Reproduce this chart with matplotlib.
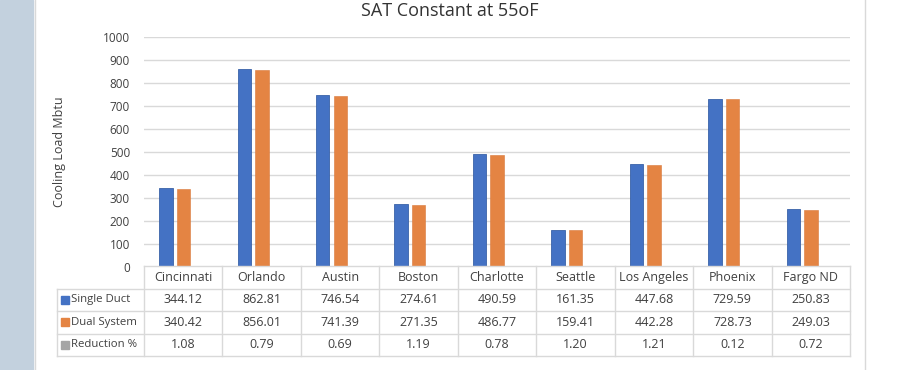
import matplotlib.pyplot as plt
from matplotlib.patches import Rectangle
from matplotlib.lines import Line2D
import numpy as np

plt.rcParams['font.family'] = ['Open Sans', 'DejaVu Sans']

cities = ['Cincinnati', 'Orlando', 'Austin', 'Boston', 'Charlotte',
          'Seattle', 'Los Angeles', 'Phoenix', 'Fargo ND']
single_duct = [344.12, 862.81, 746.54, 274.61, 490.59, 161.35, 447.68, 729.59, 250.83]
dual_system = [340.42, 856.01, 741.39, 271.35, 486.77, 159.41, 442.28, 728.73, 249.03]
reduction = ['1.08', '0.79', '0.69', '1.19', '0.78', '1.20', '1.21', '0.12', '0.72']
series_names = ['Single Duct', 'Dual System', 'Reduction %']

blue = '#4472C4'
orange = '#E48443'
grey = '#A5A5A5'
line_c = '#D9D9D9'
txt_c = '#404040'

W, H = 902, 370
fig = plt.figure(figsize=(W / 100, H / 100), dpi=100)

# page background strip on the left and chart-area borders
fig.patches.append(Rectangle((0, 0), 33 / W, 1, transform=fig.transFigure,
                             color='#C3D1DE', zorder=0))
for xp in (35, 865):
    fig.lines.append(Line2D([xp / W, xp / W], [0, 1], transform=fig.transFigure,
                            color=line_c, lw=1))

# bar chart
ax = fig.add_axes([144 / W, (H - 267) / H, 706 / W, 230 / H])
n = len(cities)
x = np.arange(n) + 0.5 - 0.11
bw = 0.172
ax.bar(x - 0.112, single_duct, bw, color=blue, edgecolor='#3A62A8', lw=0.6, zorder=3)
ax.bar(x + 0.112, dual_system, bw, color=orange, edgecolor='#D9783A', lw=0.4, zorder=3)
ax.set_xlim(0, n)
ax.set_ylim(0, 1000)
ax.set_yticks(range(0, 1001, 100))
ax.yaxis.grid(True, color=line_c, lw=1)
ax.set_axisbelow(True)
ax.set_xticks([])
for s in ax.spines.values():
    s.set_visible(False)
ax.tick_params(axis='y', length=0, labelsize=8.5, labelcolor=txt_c, pad=10)
fig.text(60 / W, (H - 152) / H, 'Cooling Load Mbtu', rotation=90, ha='center',
         va='center', fontsize=9, color=txt_c)
fig.text(450 / W, (H - 11) / H, 'SAT Constant at 55oF', ha='center', va='center',
         fontsize=13, color='#333333')

# data table
colw = 706 / n
lw_units = 87 / colw
tax = fig.add_axes([57 / W, (H - 356) / H, 793 / W, 90 / H])
tax.set_xlim(-lw_units, n)
tax.set_ylim(4, 0)
tax.axis('off')
tax.plot([0, n], [0, 0], color=line_c, lw=1, clip_on=False)
for r in range(1, 5):
    tax.plot([-lw_units, n], [r, r], color=line_c, lw=1, clip_on=False)
for c in range(n + 1):
    tax.plot([c, c], [0, 4], color=line_c, lw=1, clip_on=False)
tax.plot([-lw_units, -lw_units], [1, 4], color=line_c, lw=1, clip_on=False)

rows = [[f'{v:.2f}' for v in single_duct],
        [f'{v:.2f}' for v in dual_system],
        reduction]
for i, name in enumerate(cities):
    tax.text(i + 0.5, 0.5, name, ha='center', va='center', fontsize=9, color=txt_c)
    for r, vals in enumerate(rows):
        tax.text(i + 0.5, r + 1.5, vals[i], ha='center', va='center',
                 fontsize=9, color=txt_c)
for r, (name, col) in enumerate(zip(series_names, [blue, orange, grey])):
    tax.plot([-lw_units + 0.1], [r + 1.5], marker='s', ms=5.5, color=col,
             mec=col, clip_on=False)
    tax.text(-lw_units + 0.175, r + 1.5, name, ha='left', va='center',
             fontsize=8.2, color=txt_c)

fig.savefig('out.png', dpi=100)
